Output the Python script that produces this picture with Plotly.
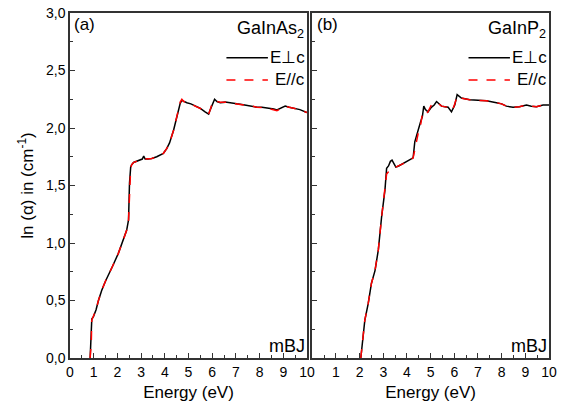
import plotly.graph_objects as go

# ---------------- data ----------------
energy_a = [0.85, 0.9, 0.92, 0.99, 1.1, 1.2, 1.34, 1.5, 1.62, 1.8, 2.04, 2.25, 2.39, 2.47, 2.51, 2.56,
            2.6, 2.68, 2.8, 2.95, 3.05, 3.11, 3.17, 3.3, 3.45, 3.66, 3.8, 3.94, 4.08, 4.2, 4.37, 4.51,
            4.65, 4.72, 4.8, 4.93, 5.1, 5.28, 5.5, 5.7, 5.85, 5.92, 5.99, 6.1, 6.2, 6.34, 6.55, 6.8,
            7.04, 7.25, 7.47, 7.7, 7.89, 8.1, 8.3, 8.45, 8.6, 8.73, 8.9, 9.08, 9.25, 9.44, 9.7, 10]
perp_a = [0, 0.2, 0.34, 0.36, 0.42, 0.5, 0.59, 0.67, 0.72, 0.8, 0.91, 1.025, 1.11, 1.2, 1.52, 1.66,
          1.68, 1.70, 1.71, 1.72, 1.73, 1.755, 1.73, 1.73, 1.735, 1.75, 1.765, 1.78, 1.82, 1.87, 1.98, 2.11,
          2.215, 2.24, 2.23, 2.22, 2.21, 2.19, 2.17, 2.14, 2.12, 2.16, 2.20, 2.25, 2.23, 2.22, 2.225, 2.215,
          2.21, 2.205, 2.195, 2.19, 2.18, 2.18, 2.175, 2.17, 2.165, 2.157, 2.17, 2.19, 2.18, 2.17, 2.16, 2.134]
par_a = [0, 0.15, 0.33, 0.36, 0.42, 0.5, 0.59, 0.67, 0.72, 0.8, 0.91, 1.025, 1.11, 1.2, 1.50, 1.65,
         1.68, 1.70, 1.71, 1.72, 1.725, 1.735, 1.73, 1.73, 1.735, 1.75, 1.765, 1.78, 1.82, 1.87, 1.98, 2.11,
         2.225, 2.25, 2.23, 2.22, 2.21, 2.19, 2.17, 2.14, 2.12, 2.16, 2.21, 2.24, 2.23, 2.225, 2.225, 2.215,
         2.21, 2.205, 2.195, 2.19, 2.18, 2.18, 2.175, 2.165, 2.155, 2.15, 2.17, 2.19, 2.18, 2.17, 2.16, 2.134]

energy_b = [2.05, 2.15, 2.22, 2.36, 2.5, 2.65, 2.79, 2.93, 3.07, 3.14, 3.22, 3.3, 3.37, 3.45, 3.53, 3.65,
            3.84, 4.0, 4.12, 4.26, 4.33, 4.4, 4.47, 4.57, 4.65, 4.71, 4.78, 4.89, 5.03, 5.15, 5.25, 5.35,
            5.46, 5.6, 5.74, 5.88, 5.95, 6.02, 6.12, 6.3, 6.65, 7.0, 7.36, 7.78, 8.0, 8.2, 8.48, 8.75,
            9.05, 9.25, 9.47, 9.75, 10]
perp_b = [0, 0.2, 0.33, 0.47, 0.65, 0.76, 0.94, 1.23, 1.46, 1.65, 1.67, 1.71, 1.72, 1.69, 1.66, 1.67,
          1.69, 1.71, 1.72, 1.74, 1.88, 1.93, 2.0, 2.05, 2.1, 2.19, 2.16, 2.14, 2.18, 2.2, 2.23, 2.21,
          2.19, 2.185, 2.18, 2.14, 2.17, 2.20, 2.29, 2.26, 2.245, 2.24, 2.236, 2.22, 2.21, 2.19, 2.18, 2.185,
          2.2, 2.19, 2.185, 2.2, 2.2]
par_b = [0, 0.2, 0.33, 0.47, 0.65, 0.76, 0.94, 1.23, 1.46, 1.6, 1.62, 1.62, 1.63, 1.64, 1.66, 1.67,
         1.69, 1.71, 1.72, 1.74, 1.80, 1.88, 1.95, 2.02, 2.12, 2.14, 2.12, 2.14, 2.2, 2.22, 2.22, 2.21,
         2.19, 2.185, 2.18, 2.15, 2.17, 2.21, 2.28, 2.26, 2.245, 2.24, 2.236, 2.22, 2.21, 2.19, 2.18, 2.185,
         2.2, 2.19, 2.185, 2.2, 2.2]

x_ticks = list(range(0, 11))
y_ticks = [0, 0.5, 1.0, 1.5, 2.0, 2.5, 3.0]
y_tick_labels = ["0,0", "0,5", "1,0", "1,5", "2,0", "2,5", "3,0"]
materials = ["GaInAs<sub>2</sub>", "GaInP<sub>2</sub>"]
panel_labels = ["(a)", "(b)"]
method = "mBJ"
legend_names = ["E\u22a5c", "E//c"]

FONT = "Liberation Sans, Arial, sans-serif"

fig = go.Figure()
for i, (E, perp, par) in enumerate([(energy_a, perp_a, par_a), (energy_b, perp_b, par_b)]):
    xa = "x" if i == 0 else "x2"
    ya = "y" if i == 0 else "y2"
    fig.add_trace(go.Scatter(x=E, y=perp, mode="lines", xaxis=xa, yaxis=ya,
                             line=dict(color="black", width=1.5), showlegend=False))
    fig.add_trace(go.Scatter(x=E, y=par, mode="lines", xaxis=xa, yaxis=ya,
                             line=dict(color="#ff0000", width=1.5, dash="dash"), showlegend=False))

axis_common = dict(showline=True, linecolor="#333333", linewidth=1.5, mirror=True,
                   ticks="inside", ticklen=5, tickwidth=1.2, tickcolor="#333333",
                   showgrid=False, zeroline=False, automargin=False,
                   tickfont=dict(family=FONT, size=14, color="black"))

x_minor = dict(ticks="inside", ticklen=3, tickcolor="#333333", dtick=0.5, tick0=0, showgrid=False)
y_minor = dict(ticks="inside", ticklen=3, tickcolor="#333333", dtick=0.25, tick0=0, showgrid=False)
title_font = dict(family=FONT, size=17, color="black")

fig.update_layout(
    width=563, height=403,
    margin=dict(l=70, r=14, t=13, b=45),
    plot_bgcolor="white", paper_bgcolor="white",
    xaxis=dict(domain=[0, 0.4948], range=[0, 10], tickvals=x_ticks,
               ticktext=[str(v) for v in x_ticks], minor=x_minor,
               title=dict(text="Energy (eV)", font=title_font, standoff=8),
               **axis_common),
    xaxis2=dict(domain=[0.5058, 1], range=[0, 10], anchor="y2", tickvals=x_ticks[1:],
                ticktext=[str(v) for v in x_ticks[1:]], minor=x_minor,
                title=dict(text="Energy (eV)", font=title_font, standoff=8),
                **axis_common),
    yaxis=dict(range=[0, 3], tickvals=y_ticks, ticktext=y_tick_labels, minor=y_minor,
               title=dict(text="ln (\u03b1) in (cm<sup>-1</sup>)", font=title_font, standoff=8),
               **axis_common),
    yaxis2=dict(range=[0, 3], anchor="x2", tickvals=y_ticks, showticklabels=False, minor=y_minor,
                **axis_common),
)

annotations = []
shapes = []
for i in range(2):
    xd = "x domain" if i == 0 else "x2 domain"
    yd = "y domain" if i == 0 else "y2 domain"
    annotations.append(dict(text=panel_labels[i], xref=xd, yref=yd, x=0.01, y=1.0, xanchor="left",
                            yanchor="top", showarrow=False, font=dict(family=FONT, size=17, color="black")))
    annotations.append(dict(text=materials[i], xref=xd, yref=yd, x=0.995, y=0.99, xanchor="right",
                            yanchor="top", showarrow=False, font=dict(family=FONT, size=18, color="black")))
    annotations.append(dict(text=method, xref=xd, yref=yd, x=1.0, y=0.0, xanchor="right",
                            yanchor="bottom", showarrow=False, font=dict(family=FONT, size=18, color="black")))
    for j, (nm, col, dash) in enumerate(zip(legend_names, ["black", "#ff0000"], ["solid", "dash"])):
        yv = 0.87 - j * 0.064
        shapes.append(dict(type="line", xref=xd, yref=yd, x0=0.66, x1=0.835, y0=yv, y1=yv,
                           line=dict(color=col, width=1.5, dash=dash)))
        annotations.append(dict(text=nm, xref=xd, yref=yd, x=1.0, y=yv, xanchor="right",
                                yanchor="middle", showarrow=False,
                                font=dict(family=FONT, size=17, color="black")))

fig.update_layout(annotations=annotations, shapes=shapes)
# remove the default 8px page margin so the figure fills the window exactly
fig.write_html("out.html", config={"displayModeBar": False},
               post_script="document.body.style.margin='0';document.body.style.overflow='hidden';")
